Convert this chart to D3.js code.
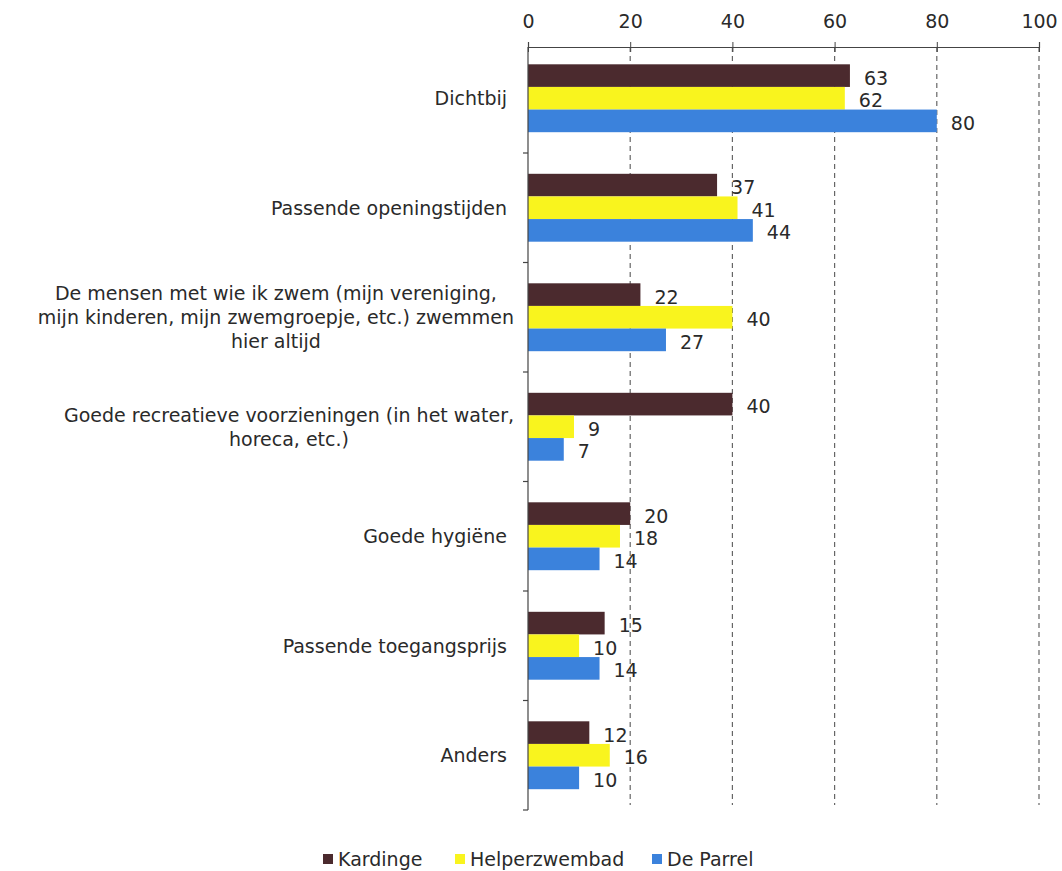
<!DOCTYPE html>
<html><head><meta charset="utf-8">
<script src="https://cdn.jsdelivr.net/npm/d3@7/dist/d3.min.js"></script>
<style>body{margin:0;background:#fff}svg{display:block}text{font-family:"DejaVu Sans",Verdana,sans-serif;fill:#2a2a2a}</style>
</head><body>
<svg id="c" width="1062" height="871"></svg>
<script>
const categories = [
  ["Dichtbij"],
  ["Passende openingstijden"],
  ["De mensen met wie ik zwem (mijn vereniging,", "mijn kinderen, mijn zwemgroepje, etc.) zwemmen", "hier altijd"],
  ["Goede recreatieve voorzieningen (in het water,", "horeca, etc.)"],
  ["Goede hygiëne"],
  ["Passende toegangsprijs"],
  ["Anders"]
];
const seriesNames = ["Kardinge", "Helperzwembad", "De Parrel"];
const kardinge = [63, 37, 22, 40, 20, 15, 12];
const helperzwembad = [62, 41, 40, 9, 18, 10, 16];
const deParrel = [80, 44, 27, 7, 14, 14, 10];
const xTicks = [0, 20, 40, 60, 80, 100];
const colors = ["#4b2a2e", "#f9f41e", "#3b82dc"];

const series = [kardinge, helperzwembad, deParrel];
const svg = d3.select("#c");
const x = d3.scaleLinear().domain([0, 100]).range([528, 1039]);
const y0 = d3.scaleBand().domain(d3.range(categories.length)).range([43.5, 810]).paddingInner(0.38).paddingOuter(0.19);
const y1 = d3.scaleBand().domain(d3.range(series.length)).range([0, y0.bandwidth()]);
const axisY = 47;
const fs = 19;

// gridlines
svg.append("g").selectAll("line").data(xTicks.filter(t => t > 0)).join("line")
  .attr("x1", d => x(d)).attr("x2", d => x(d)).attr("y1", axisY).attr("y2", 805)
  .attr("stroke", "#666").attr("stroke-width", 1.2).attr("stroke-dasharray", "5,4");

// bars
const g = svg.append("g");
categories.forEach((c, i) => {
  series.forEach((s, j) => {
    const yy = y0(i) + y1(j);
    g.append("rect").attr("x", x(0)).attr("y", yy).attr("width", x(s[i]) - x(0)).attr("height", y1.bandwidth())
      .attr("fill", colors[j]);
    g.append("text").attr("x", x(s[i]) + 14).attr("y", yy + y1.bandwidth() / 2 + 2)
      .attr("dominant-baseline", "central").attr("font-size", fs).text(s[i]);
  });
});

// top axis
const xa = svg.append("g").attr("transform", `translate(0,${axisY})`)
  .call(d3.axisTop(x).tickValues(xTicks).tickSize(5).tickPadding(14));
xa.select(".domain").attr("stroke", "#444").attr("stroke-width", 1.2);
xa.selectAll(".tick line").attr("stroke", "#444").attr("y2", -5).attr("y1", 5);
xa.selectAll(".tick text").attr("font-size", fs).attr("fill", "#2a2a2a").attr("font-family", '"DejaVu Sans",Verdana,sans-serif');

// left axis
const bounds = d3.range(categories.length + 1).map(i => 43.5 + i * (810 - 43.5) / categories.length);
svg.append("line").attr("x1", x(0)).attr("x2", x(0)).attr("y1", axisY).attr("y2", 810).attr("stroke", "#444").attr("stroke-width", 1.2);
svg.append("g").selectAll("line").data(bounds.slice(1)).join("line")
  .attr("x1", x(0) - 5).attr("x2", x(0)).attr("y1", d => d).attr("y2", d => d).attr("stroke", "#444").attr("stroke-width", 1.2);

// category labels
const lh = 24;
categories.forEach((lines, i) => {
  const cy = y0(i) + y0.bandwidth() / 2;
  const t = svg.append("text").attr("font-size", fs).attr("text-anchor", "middle");
  lines.forEach((l, k) => {
    t.append("tspan").attr("y", cy + (k - (lines.length - 1) / 2) * lh).attr("dominant-baseline", "central").text(l);
  });
  const w = d3.max(t.selectAll("tspan").nodes(), n => n.getComputedTextLength());
  const right = lines.length > 1 ? 514 : 507;
  t.selectAll("tspan").attr("x", right - w / 2);
});

// legend
const leg = svg.append("g").attr("transform", "translate(0,859)");
const legX = [323, 455, 652];
seriesNames.forEach((n, j) => {
  leg.append("rect").attr("x", legX[j]).attr("y", -5).attr("width", 10).attr("height", 10).attr("fill", colors[j]);
  leg.append("text").attr("x", legX[j] + 15).attr("y", 0).attr("dominant-baseline", "central").attr("font-size", fs).text(n);
});
</script>
</body></html>
